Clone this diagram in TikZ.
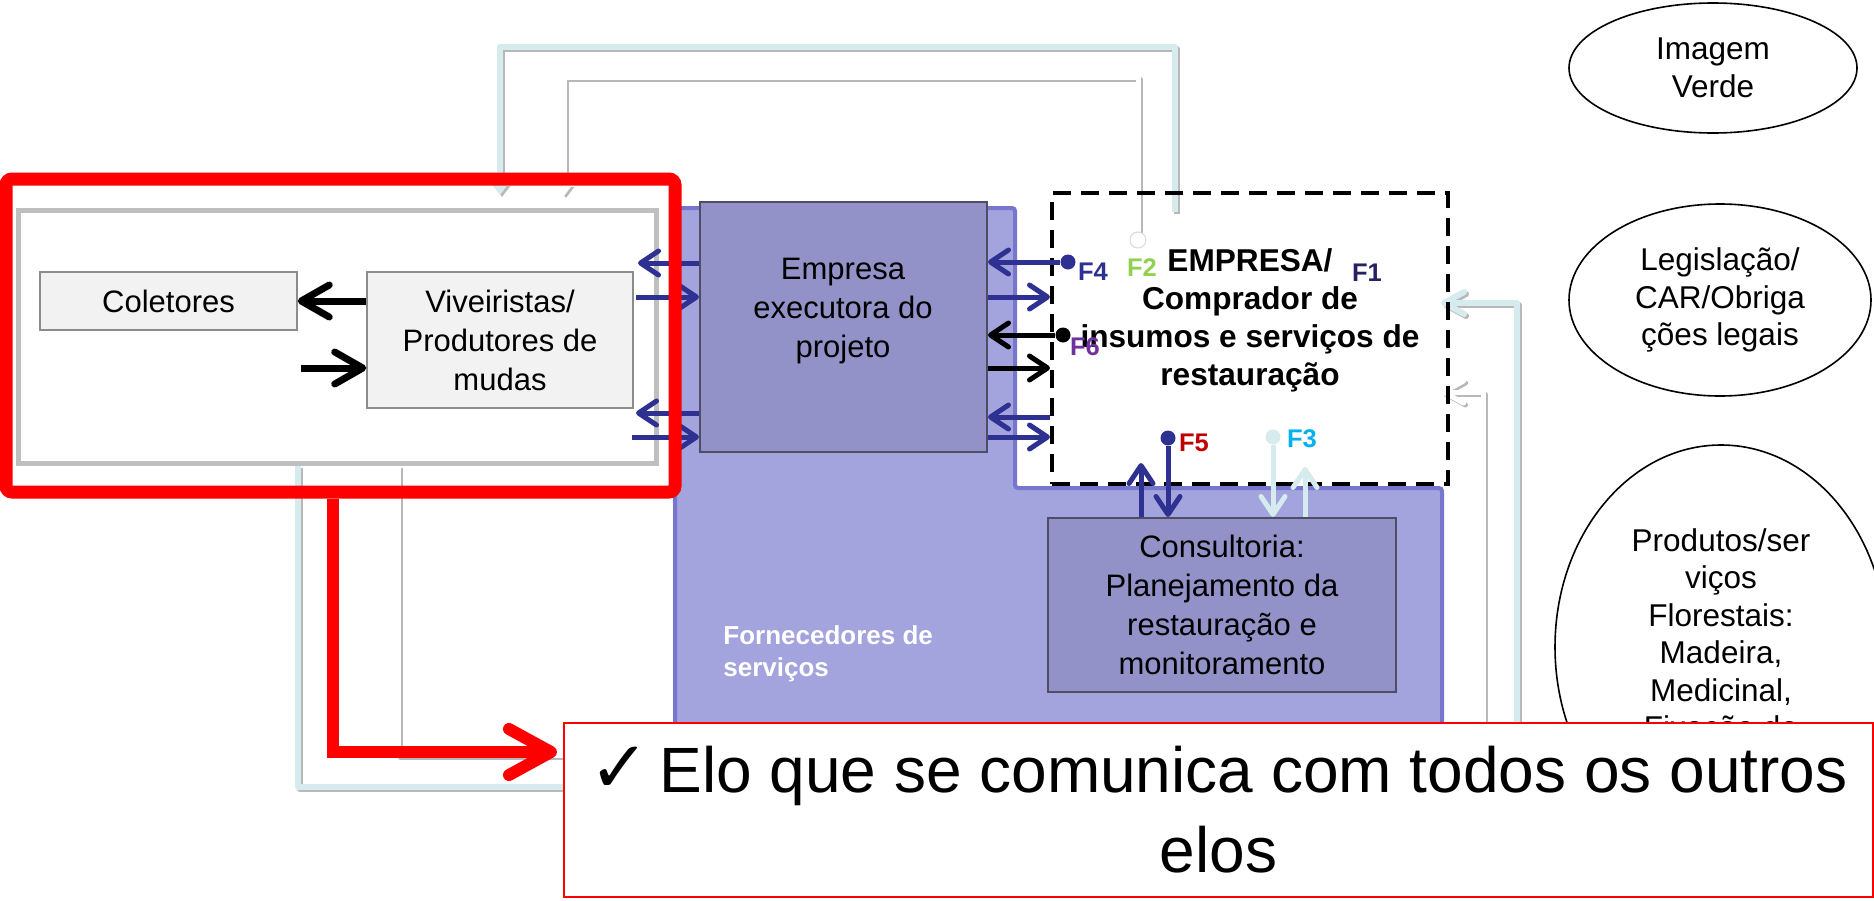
\documentclass[tikz,border=0pt]{standalone}
\usepackage{fontspec}
\setmainfont{Liberation Sans}
\newfontfamily\symfont{DejaVu Sans}
\usetikzlibrary{arrows.meta,shapes.geometric}
\pgfdeclarelayer{back}
\pgfdeclarelayer{front}
\pgfsetlayers{back,main,front}
\definecolor{navy}{HTML}{2E3192}
\definecolor{regfill}{HTML}{A3A3DE}
\definecolor{regedge}{HTML}{7676CC}
\definecolor{darkfill}{HTML}{9292C8}
\definecolor{darkedge}{HTML}{4D4D66}
\definecolor{lcyan}{HTML}{D5EBEE}
\definecolor{fone}{HTML}{262262}
\definecolor{ftwo}{HTML}{92D050}
\definecolor{fthree}{HTML}{00B0F0}
\definecolor{ffive}{HTML}{C00000}
\definecolor{fsix}{HTML}{7030A0}
\newcommand\shadowdraw[2]{%
  \begin{scope}[transform canvas={shift={(1pt,-1pt)}}]\draw[#1,draw=black!28] #2;\end{scope}%
  \draw[#1] #2;}
\begin{document}
\begin{tikzpicture}[x=0.5pt,y=-0.5pt,
  boxtxt/.style={font=\fontsize{15.5pt}{19.5pt}\selectfont, align=center},
  lightbox/.style={draw=black!45, fill=black!5, line width=0.75pt, boxtxt, inner sep=0pt},
  darkbox/.style={draw=darkedge, fill=darkfill, line width=1pt, boxtxt, inner sep=0pt},
  ellnode/.style={ellipse, draw, line width=0.8pt, inner sep=0pt, align=center, font=\fontsize{15.75pt}{18.75pt}\selectfont},
  elltxt/.style={inner sep=0pt, align=center, font=\fontsize{15.75pt}{18.75pt}\selectfont},
  fdot/.style={circle, inner sep=0pt, minimum size=7.5pt},
  flabel/.style={inner sep=0pt, font=\fontsize{12.75pt}{14pt}\selectfont\bfseries},
  arrB/.style={draw=navy, line width=2.5pt, -{Straight Barb[length=9pt,width=12pt,round]}},
  arrK/.style={draw=black, line width=2.5pt, -{Straight Barb[length=9pt,width=12pt,round]}},
  arrL/.style={draw=lcyan, line width=2.5pt, -{Straight Barb[length=9pt,width=12pt,round]}},
  arrBig/.style={draw=black, line width=3.5pt, -{Straight Barb[length=14pt,width=16pt,round]}},
  arrRed/.style={draw=red, line width=6pt, -{Straight Barb[length=21pt,width=23pt,round]}},
  conLB/.style={draw=lcyan, line width=3pt, line join=round},
  conW/.style={draw=white, line width=2.5pt, line join=round}
]
\useasboundingbox (0,0) rectangle (1874,900);

% service-provider region
\draw[draw=regedge, fill=regfill, line width=2pt, rounded corners=1.5pt]
  (675,208) -- (1015,208) -- (1015,488) -- (1442,488) -- (1442,735) -- (675,735) -- cycle;
\node[font=\fontsize{13pt}{16pt}\selectfont\bfseries, text=white, align=left, anchor=west, inner sep=0pt] (forn) at (723,654) {Fornecedores de\\serviços};

% boxes
\node[draw=black!25, line width=2.5pt, minimum width=319pt, minimum height=126.5pt, inner sep=0pt] (grp) at (337,336.5) {};
\node[lightbox, minimum width=128.5pt, minimum height=29pt] (col) at (168.5,301) {Coletores};
\node[lightbox, minimum width=133pt, minimum height=68pt] (viv) at (500,340) {Viveiristas/\\Produtores de\\mudas};
\node[darkbox, minimum width=143.5pt, minimum height=125pt] (emp) at (843.5,327) {};
\node[boxtxt, inner sep=0pt] (empt) at (843,311) {Empresa\\executora do\\projeto};
\node[darkbox, minimum width=174pt, minimum height=87pt] (cons) at (1222,605) {Consultoria:\\Planejamento da\\restauração e\\monitoramento};
\node[draw=black, line width=2pt, dash pattern=on 9pt off 5pt, minimum width=198pt, minimum height=145.5pt, inner sep=0pt] (buy) at (1250,338.5) {};
\node[inner sep=0pt, align=center, font=\fontsize{15.8pt}{19pt}\selectfont\bfseries] (buyt) at (1250,320.5) {EMPRESA/\\Comprador de\\insumos e serviços de\\restauração};

% ellipses
\node[ellnode, minimum width=144pt, minimum height=65pt] (img) at (1713,68) {Imagem\\Verde};
\node[ellnode, minimum width=151pt, minimum height=96pt] (leg) at (1720,300) {Legislação/\\CAR/Obriga\\ções legais};
\node[ellnode, minimum width=166pt, minimum height=202pt] (prod) at (1721,647) {};
\node[elltxt] (prodt) at (1721,637) {Produtos/ser\\viços\\Florestais:\\Madeira,\\Medicinal,\\Fixação de};

% dots and flow labels
\node[fdot, fill=navy] (f4d) at (1068,262) {};
\node[fdot, fill=black] (f6d) at (1063,335) {};
\node[fdot, fill=navy] (f5d) at (1168,438) {};
\node[fdot, fill=lcyan] (f3d) at (1273,437) {};
\node[fdot, fill=white, draw=black!15, line width=0.5pt, minimum size=8pt] (f2d) at (1138,240) {};
\node[flabel, text=navy] (lf4) at (1093,272) {F4};
\node[flabel, text=ftwo] (lf2) at (1142,268) {F2};
\node[flabel, text=fone] (lf1) at (1367,273) {F1};
\node[flabel, text=fsix] (lf6) at (1085,347) {F6};
\node[flabel, text=ffive] (lf5) at (1194,443) {F5};
\node[flabel, text=fthree] (lf3) at (1302,439) {F3};

% free ends
\coordinate (la) at (638,263);
\coordinate (lb) at (636,297);
\coordinate (lc) at (636,413);
\coordinate (ld) at (632,437);
\coordinate (ke) at (301,368);
\coordinate (lbtop) at (1175,212);
\coordinate (lbin) at (500,195);
\coordinate (win) at (564,196);
\coordinate (lbR) at (1441,303);
\coordinate (wR) at (1441,392);
\coordinate (rtip) at (557,752);

% arrows, left of Empresa
\draw[arrB] (emp.west |- la) -- (la);
\draw[arrB] (lb) -- (emp.west |- lb);
\draw[arrB] (emp.west |- lc) -- (lc);
\draw[arrB] (ld) -- (emp.west |- ld);
% arrows, right of Empresa
\draw[arrB] (f4d) -- (emp.east |- f4d);
\draw[arrB] (emp.east |- 0,297) -- (buy.west |- 0,297);
\draw[arrK] (f6d) -- (emp.east |- f6d);
\draw[arrK] (emp.east |- 0,368) -- (buy.west |- 0,368);
\draw[arrB] (buy.west |- 0,417) -- (emp.east |- 0,417);
\draw[arrB] (emp.east |- 0,437) -- (buy.west |- 0,437);
% arrows to/from Consultoria
\draw[arrB] (f5d) -- (f5d |- cons.north);
\draw[arrB] (cons.north -| 1141,0) -- (1141,463);
\draw[arrL] (f3d) -- (f3d |- cons.north);
\draw[arrL] (cons.north -| 1305,0) -- (1305,467);
% black arrows inside the red frame
\draw[arrBig] (viv.west |- col) -- (col.east);
\draw[arrBig] (ke) -- (viv.west |- ke);

% long connectors behind
\begin{pgfonlayer}{back}
\shadowdraw{conLB,-{Triangle[length=5.5pt,width=8pt]}}{(lbtop) -- (1175,47) -| (lbin)}
\shadowdraw{conW,-{Triangle[length=5.5pt,width=8pt]}}{(f2d) -- (1138,77) -| (win)}
\shadowdraw{conLB,-{Straight Barb[length=10pt,width=11pt,round]}}{(grp.south -| 298,0) -- (298,787) -- (1517,787) -- (1517,303) -- (lbR)}
\shadowdraw{conW,-{Straight Barb[length=10pt,width=11pt,round]}}{(grp.south -| 398,0) -- (398,755) -- (1483,755) -- (1483,392) -- (wR)}
\end{pgfonlayer}

% front: red frame, red arrow, callout
\begin{pgfonlayer}{front}
\node[draw=red, line width=6.5pt, rounded corners=3pt, minimum width=334.5pt, minimum height=156.5pt, inner sep=0pt] (red) at (340.5,335.5) {};
\draw[arrRed] (red.south -| 333,0) -- (333,752) -- (rtip);
\node[draw=red, line width=1pt, fill=white, minimum width=654.5pt, minimum height=87pt, inner sep=0pt, align=center, font=\fontsize{32pt}{40pt}\selectfont] (note) at (1218.5,810) {{\symfont\fontsize{36pt}{40pt}\selectfont ✓}\hspace{0.15em}Elo que se comunica com todos os outros\\elos};
\end{pgfonlayer}
\end{tikzpicture}
\end{document}
